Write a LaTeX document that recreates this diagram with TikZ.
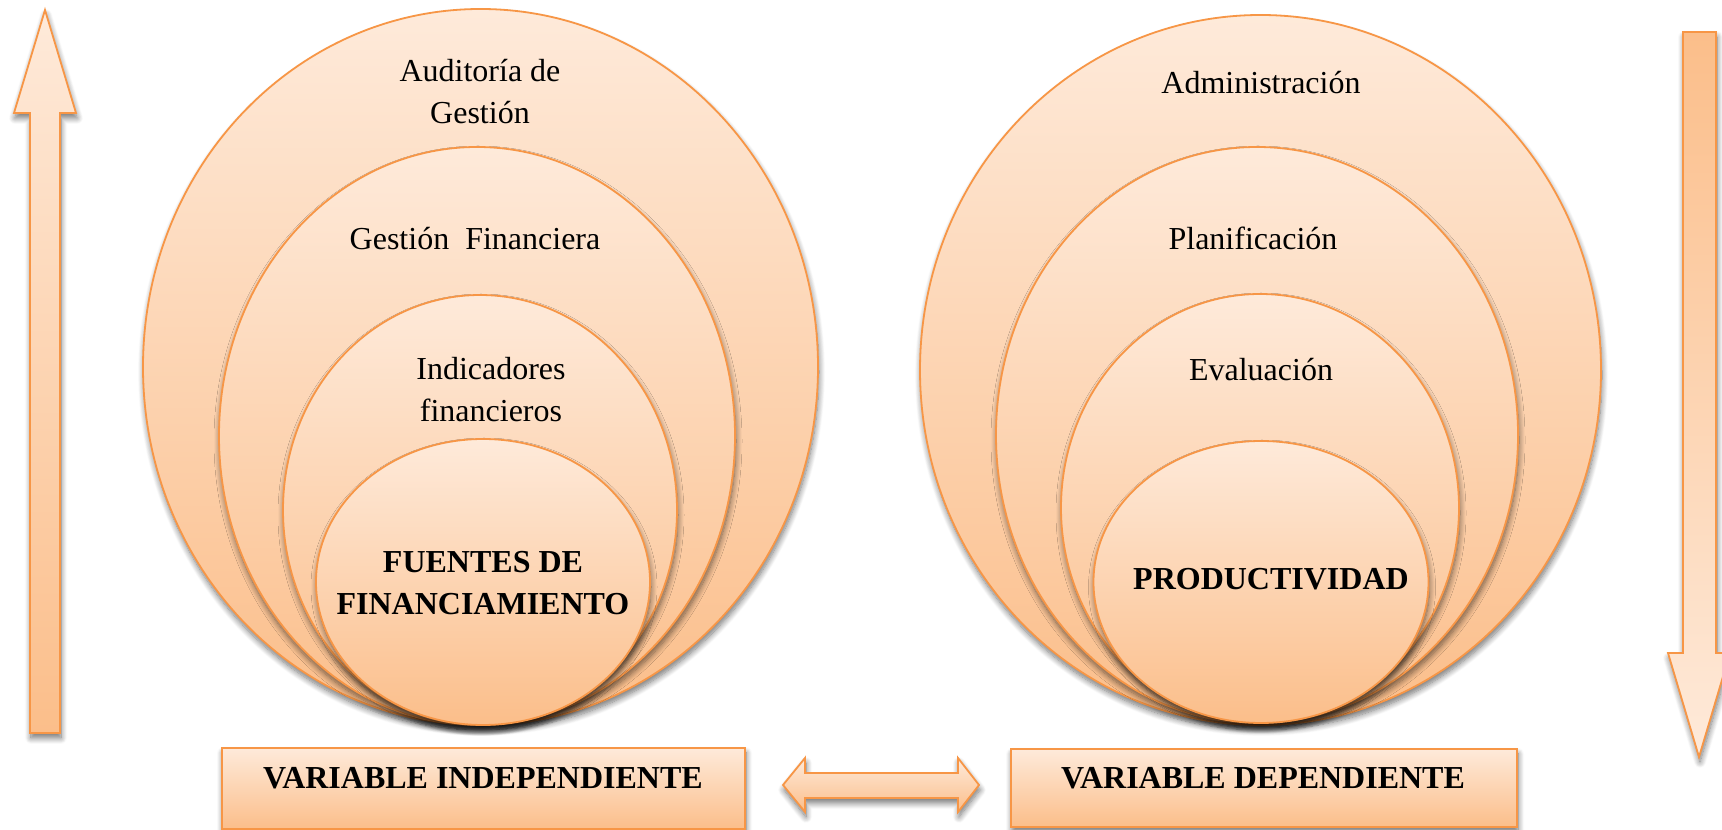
\documentclass[tikz,border=0pt]{standalone}
\usepackage{fontspec}
\setmainfont{Liberation Serif}
\usetikzlibrary{shapes.geometric,shadows.blur}
\definecolor{ostroke}{RGB}{247,150,70}
\definecolor{otop}{RGB}{254,234,218}
\definecolor{obot}{RGB}{251,190,138}
\tikzset{
  shad/.style={blur shadow={shadow xshift=1pt, shadow yshift=-5pt, shadow blur steps=10, shadow blur radius=6pt, shadow opacity=55}},
  circ/.style={ellipse, draw=ostroke, line width=1.8pt, top color=otop, bottom color=obot, inner sep=0pt, shad},
  boxsty/.style={rectangle, draw=ostroke, line width=1.8pt, top color=otop, bottom color=obot, inner sep=0pt, shad},
  arrsty/.style={draw=ostroke, line width=1.8pt, line join=miter, top color=otop, bottom color=obot, shad},
  darrsty/.style={draw=ostroke, line width=1.8pt, line join=miter, top color=obot, bottom color=otop, shad},
  txt/.style={align=center, font=\fontsize{32}{42}\selectfont, inner sep=0pt},
  btxt/.style={align=center, font=\bfseries\fontsize{32}{42}\selectfont, inner sep=0pt},
  boxtxt/.style={font=\bfseries\fontsize{32}{38}\selectfont, inner sep=0pt}
}
\begin{document}
\begin{tikzpicture}[x=1pt,y=1pt]
\useasboundingbox (0,0) rectangle (1722,830);
% side arrows
\path[arrsty] (45,820) -- (76,717) -- (60,717) -- (60,97) -- (30,97) -- (30,717) -- (14,717) -- cycle;
\path[darrsty] (1683,798) -- (1716,798) -- (1716,177) -- (1730,177) -- (1699,73) -- (1668,177) -- (1683,177) -- cycle;
% left circles
\node[circ, minimum width=675pt, minimum height=716pt] (l1) at (480.5,463) {};
\node[circ, minimum width=516pt, minimum height=578pt] (l2) at (477,394) {};
\node[circ, minimum width=394pt, minimum height=430pt] (l3) at (480,320) {};
\node[circ, minimum width=334pt, minimum height=286pt] (l4) at (483,248) {};
% right circles
\node[circ, minimum width=681pt, minimum height=710pt] (r1) at (1260.5,460) {};
\node[circ, minimum width=522pt, minimum height=576pt] (r2) at (1257,395) {};
\node[circ, minimum width=398pt, minimum height=428pt] (r3) at (1260,322) {};
\node[circ, minimum width=335pt, minimum height=282pt] (r4) at (1261,248) {};
% texts
\node[txt] (t1) at (480,738) {Auditoría de\\Gestión};
\node[txt] (t2) at (475,591) {Gestión\ \ Financiera};
\node[txt] (t3) at (491,440) {Indicadores\\financieros};
\node[btxt] (t4) at (483,247) {FUENTES DE\\FINANCIAMIENTO};
\node[txt] (u1) at (1261,747) {Administración};
\node[txt] (u2) at (1253,592) {Planificación};
\node[txt] (u3) at (1261,460) {Evaluación};
\node[btxt] (u4) at (1271,251) {PRODUCTIVIDAD};
% boxes
\node[boxsty, minimum width=523pt, minimum height=81pt] (bl) at (483.5,41.5) {};
\node[boxsty, minimum width=506pt, minimum height=78pt] (br) at (1264,42) {};
\node[boxtxt] (blt) at (483,52) {VARIABLE INDEPENDIENTE};
\node[boxtxt] (brt) at (1263,52) {VARIABLE DEPENDIENTE};
% double arrow
\path[arrsty] (783,45) -- (805,72) -- (805,57) -- (958,57) -- (958,72) -- (979,45) -- (958,18) -- (958,32) -- (805,32) -- (805,18) -- cycle;
\end{tikzpicture}
\end{document}
